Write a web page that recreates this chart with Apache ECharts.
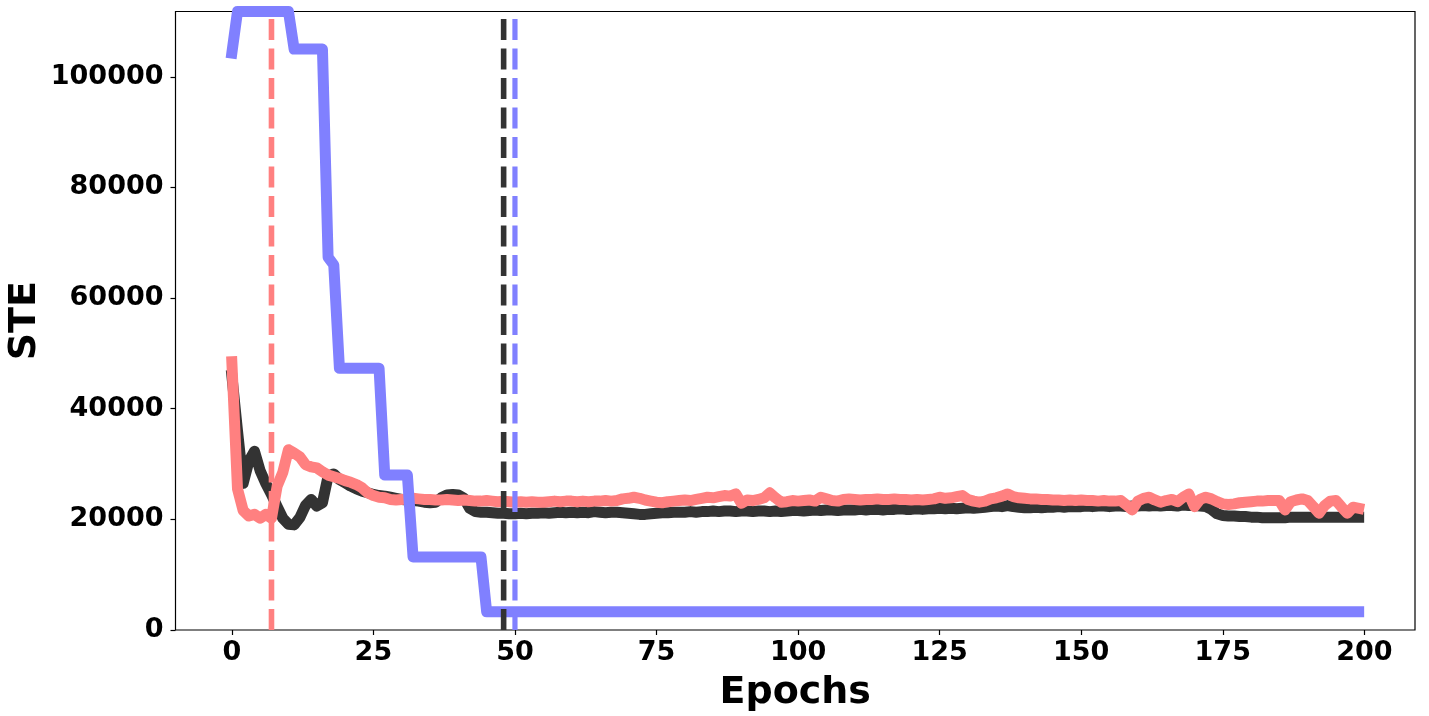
<!DOCTYPE html>
<html>
<head>
<meta charset="utf-8">
<title>STE vs Epochs</title>
<script src="https://cdn.jsdelivr.net/npm/echarts@6/dist/echarts.min.js"></script>
<style>
  html, body { margin: 0; padding: 0; background: #fff; }
  #chart { width: 1429px; height: 716px; }
</style>
</head>
<body>
<div id="chart"></div>
<script>
// tick labels
var xTicks = [0, 25, 50, 75, 100, 125, 150, 175, 200];
var yTicks = [0, 20000, 40000, 60000, 80000, 100000];

// dark (black) curve, one value per epoch 0..199
var blackSte = [
  46000, 36000, 26500, 30500, 32300, 28800, 26500, 24500, 22300, 20200,
  19100, 19000, 20300, 22500, 23600, 22400, 23000, 27800, 28200, 27200,
  26600, 26000, 25500, 25100, 24800, 24500, 24300, 24200, 24000, 23800,
  23600, 23500, 23400, 23300, 23100, 23000, 23100, 23900, 24400, 24500,
  24400, 23800, 22000, 21400, 21300, 21300, 21200, 21100, 21100, 21000,
  21000, 21100, 21000, 21100, 21100, 21200, 21100, 21200, 21300, 21200,
  21300, 21200, 21300, 21200, 21400, 21300, 21200, 21300, 21300, 21200,
  21100, 21000, 20900, 20900, 21000, 21100, 21200, 21200, 21300, 21300,
  21300, 21400, 21300, 21400, 21400, 21500, 21400, 21500, 21500, 21400,
  21500, 21500, 21400, 21500, 21500, 21400, 21500, 21400, 21500, 21600,
  21600, 21500, 21600, 21700, 21600, 21700, 21700, 21600, 21700, 21700,
  21700, 21800, 21700, 21800, 21800, 21700, 21800, 21800, 21900, 21800,
  21800, 21900, 21800, 21900, 21900, 22000, 21900, 22000, 21900, 22000,
  22100, 22000, 22100, 22200, 22300, 22400, 22300, 22500, 22300, 22200,
  22100, 22100, 22200, 22100, 22200, 22200, 22300, 22200, 22300, 22300,
  22300, 22400, 22300, 22400, 22400, 22300, 22400, 22400, 22300, 22400,
  22400, 22500, 22400, 22500, 22400, 22500, 22500, 22400, 22600, 22500,
  22500, 22400, 22300, 21800, 21000, 20700, 20600, 20600, 20500, 20500,
  20400, 20400, 20300, 20300, 20300, 20300, 20300, 20400, 20400, 20400,
  20400, 20400, 20400, 20400, 20400, 20400, 20400, 20400, 20400, 20400
];

// red curve
var redSte = [
  48500, 25500, 21600, 20600, 20900, 20200, 20900, 20200, 26000, 28500,
  32600, 32000, 31300, 29900, 29500, 29300, 28600, 28000, 27700, 27400,
  27000, 26700, 26300, 25700, 24800, 24300, 24000, 23900, 23600, 23500,
  23600, 23700, 23800, 23700, 23600, 23600, 23500, 23500, 23600, 23500,
  23400, 23500, 23400, 23300, 23300, 23400, 23300, 23200, 23300, 23200,
  23100, 23200, 23100, 23200, 23100, 23100, 23200, 23300, 23200, 23300,
  23300, 23200, 23300, 23200, 23300, 23300, 23400, 23300, 23400, 23700,
  23800, 24000, 23800, 23500, 23300, 23100, 23000, 23200, 23300, 23400,
  23500, 23400, 23600, 23800, 24000, 23900, 24100, 24300, 24200, 24600,
  22900, 23500, 23400, 23600, 23900, 24800, 23900, 23100, 23200, 23400,
  23300, 23400, 23500, 23300, 24000, 23700, 23400, 23300, 23600, 23700,
  23600, 23500, 23600, 23600, 23700, 23600, 23600, 23700, 23600, 23600,
  23500, 23600, 23500, 23600, 23700, 24000, 23800, 23900, 24100, 24300,
  23600, 23300, 23100, 23300, 23700, 23900, 24200, 24600, 24100, 23900,
  23800, 23700, 23700, 23600, 23600, 23500, 23500, 23400, 23500, 23400,
  23500, 23400, 23400, 23300, 23400, 23300, 23300, 23400, 22600, 21700,
  23300, 23800, 24000, 23500, 23100, 23400, 23600, 23200, 24000, 24600,
  22300, 23600, 24000, 23700, 23200, 22800, 22700, 22800, 23000, 23100,
  23200, 23300, 23300, 23400, 23400, 23400, 21700, 23200, 23500, 23700,
  23400, 22300, 21100, 22500, 23300, 23400, 22200, 21100, 22200, 22000
];

// blue curve (steps)
var blueSte = [
  104300, 111800, 111800, 111800, 111800, 111800, 111800, 111800, 111800, 111800,
  111800, 105000, 105000, 105000, 105000, 105000, 105000, 67400, 66000, 47300,
  47300, 47300, 47300, 47300, 47300, 47300, 47300, 28000, 28000, 28000,
  28000, 28000, 13200, 13200, 13200, 13200, 13200, 13200, 13200, 13200,
  13200, 13200, 13200, 13200, 13200, 3300, 3300, 3300, 3300, 3300,
  3300, 3300, 3300, 3300, 3300, 3300, 3300, 3300, 3300, 3300,
  3300, 3300, 3300, 3300, 3300, 3300, 3300, 3300, 3300, 3300,
  3300, 3300, 3300, 3300, 3300, 3300, 3300, 3300, 3300, 3300,
  3300, 3300, 3300, 3300, 3300, 3300, 3300, 3300, 3300, 3300,
  3300, 3300, 3300, 3300, 3300, 3300, 3300, 3300, 3300, 3300,
  3300, 3300, 3300, 3300, 3300, 3300, 3300, 3300, 3300, 3300,
  3300, 3300, 3300, 3300, 3300, 3300, 3300, 3300, 3300, 3300,
  3300, 3300, 3300, 3300, 3300, 3300, 3300, 3300, 3300, 3300,
  3300, 3300, 3300, 3300, 3300, 3300, 3300, 3300, 3300, 3300,
  3300, 3300, 3300, 3300, 3300, 3300, 3300, 3300, 3300, 3300,
  3300, 3300, 3300, 3300, 3300, 3300, 3300, 3300, 3300, 3300,
  3300, 3300, 3300, 3300, 3300, 3300, 3300, 3300, 3300, 3300,
  3300, 3300, 3300, 3300, 3300, 3300, 3300, 3300, 3300, 3300,
  3300, 3300, 3300, 3300, 3300, 3300, 3300, 3300, 3300, 3300,
  3300, 3300, 3300, 3300, 3300, 3300, 3300, 3300, 3300, 3300
];

// best-epoch markers (vertical dashed lines)
var bestEpochs = { red: 7, black: 48, blue: 50 };

var X_MIN = -9.95, X_MAX = 208.95;
var Y_MIN = 0, Y_MAX = 111800;

var BLACK = '#333333', RED = '#ff8080', BLUE = '#8080ff';
var FONT = 'DejaVu Sans';

function toPairs(arr) {
  return arr.map(function (v, i) { return [i, v]; });
}

function solidLine(name, arr, color) {
  return {
    name: name,
    type: 'line',
    data: toPairs(arr),
    showSymbol: false,
    symbol: 'none',
    silent: true,
    clip: true,
    lineStyle: { color: color, width: 11, cap: 'square', join: 'round' }
  };
}

function vLine(name, x, color, width) {
  return {
    name: name,
    type: 'line',
    data: [[x, Y_MIN], [x, Y_MAX]],
    showSymbol: false,
    symbol: 'none',
    silent: true,
    lineStyle: { color: color, width: width, type: [21, 8.5], cap: 'butt' }
  };
}

var chart = echarts.init(document.getElementById('chart'));

var option = {
  animation: false,
  backgroundColor: '#fff',
  grid: {
    left: 175.5,
    right: 14,
    top: 11.5,
    bottom: 86,
    show: true,
    borderColor: '#000',
    borderWidth: 1.2,
    containLabel: false,
    outerBoundsMode: 'none'
  },
  xAxis: {
    type: 'value',
    min: X_MIN,
    max: X_MAX,
    name: 'Epochs',
    nameLocation: 'middle',
    nameGap: 44,
    nameMoveOverlap: false,
    nameTextStyle: { fontFamily: FONT, fontWeight: 'bold', fontSize: 38, color: '#000' },
    axisLine: { show: false, onZero: false },
    splitLine: { show: false },
    axisTick: {
      show: true, length: 5, inside: false,
      customValues: xTicks,
      lineStyle: { color: '#000', width: 1.2 }
    },
    axisLabel: {
      customValues: xTicks,
      margin: 9,
      formatter: function (v) { return String(v); },
      fontFamily: FONT, fontWeight: 'bold', fontSize: 27, color: '#000'
    }
  },
  yAxis: {
    type: 'value',
    min: Y_MIN,
    max: Y_MAX,
    name: 'STE',
    nameLocation: 'middle',
    nameGap: 131,
    nameMoveOverlap: false,
    nameTextStyle: { fontFamily: FONT, fontWeight: 'bold', fontSize: 38, color: '#000' },
    axisLine: { show: false, onZero: false },
    splitLine: { show: false },
    axisTick: {
      show: true, length: 5, inside: false,
      customValues: yTicks,
      lineStyle: { color: '#000', width: 1.2 }
    },
    axisLabel: {
      customValues: yTicks,
      margin: 12,
      formatter: function (v) { return String(v); },
      fontFamily: FONT, fontWeight: 'bold', fontSize: 27, color: '#000'
    }
  },
  series: [
    solidLine('black', blackSte, BLACK),
    solidLine('red', redSte, RED),
    solidLine('blue', blueSte, BLUE),
    vLine('black best', bestEpochs.black, BLACK, 5.6),
    vLine('red best', bestEpochs.red, RED, 5.6),
    vLine('blue best', bestEpochs.blue, BLUE, 5.2)
  ]
};

chart.setOption(option);
</script>
</body>
</html>
